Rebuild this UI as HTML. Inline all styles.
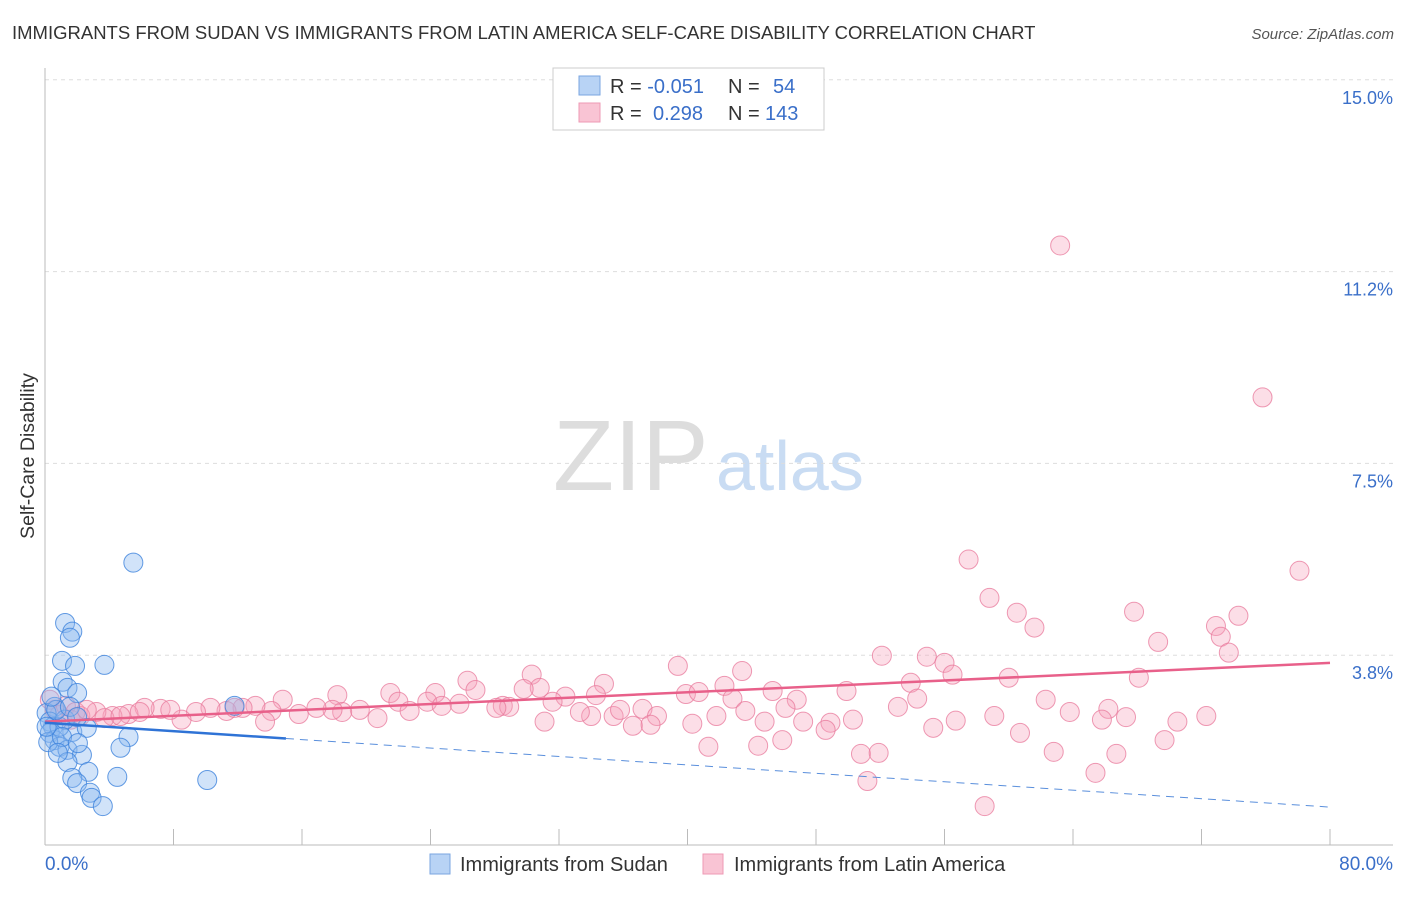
<!DOCTYPE html>
<html><head><meta charset="utf-8"><style>
body{margin:0;background:#fff;font-family:"Liberation Sans",sans-serif}
svg text{font-family:"Liberation Sans",sans-serif}
</style></head><body>
<svg id="chart" width="1406" height="892" xmlns="http://www.w3.org/2000/svg">
<text x="12" y="39" font-size="18.5" fill="#333">IMMIGRANTS FROM SUDAN VS IMMIGRANTS FROM LATIN AMERICA SELF-CARE DISABILITY CORRELATION CHART</text>
<text x="1394" y="39" font-size="15" fill="#555" text-anchor="end" font-style="italic">Source: ZipAtlas.com</text>
<g><text x="553" y="490" font-size="100" fill="#ddd" font-family="Liberation Serif,serif">ZIP</text><text x="716" y="490" font-size="70" fill="#c9dcf3">atlas</text></g>
<g id="grid"></g><g id="axes"></g><g id="pts"></g><g id="lines"></g>
<text transform="translate(34,456) rotate(-90)" font-size="19.5" fill="#333" text-anchor="middle">Self-Care Disability</text>
<text x="45" y="870" font-size="19" fill="#3a6fc9">0.0%</text>
<text x="1393" y="870" font-size="19" fill="#3a6fc9" text-anchor="end">80.0%</text>
<g>
<rect x="553" y="68" width="271" height="62" fill="#fff" stroke="#ccc"/>
<rect x="579" y="76" width="21" height="19" fill="#b8d3f5" stroke="#7aa6e0"/>
<rect x="579" y="103" width="21" height="19" fill="#f9c4d4" stroke="#ee9ab4"/>
<text x="610" y="93" font-size="20" fill="#333">R = <tspan fill="#3a6fc9">-0.051</tspan><tspan x="728">N = </tspan><tspan x="773" fill="#3a6fc9">54</tspan></text>
<text x="610" y="120" font-size="20" fill="#333">R = <tspan x="653" fill="#3a6fc9">0.298</tspan><tspan x="728">N = </tspan><tspan x="765" fill="#3a6fc9">143</tspan></text>
</g>
<g>
<rect x="430" y="854" width="20" height="20" fill="#b8d3f5" stroke="#7aa6e0"/>
<text x="460" y="871" font-size="20" fill="#333">Immigrants from Sudan</text>
<rect x="703" y="854" width="20" height="20" fill="#f9c4d4" stroke="#ee9ab4"/>
<text x="734" y="871" font-size="20" fill="#333">Immigrants from Latin America</text>
</g>
</svg>
<script>
const yTicks=[3.75,7.5,11.25,15];
const yTickLabels=["3.8%","7.5%","11.2%","15.0%"];
const xTicks=[0,8,16,24,32,40,48,56,64,72,80];
const pinkX=[63.2,75.8,57.5,78.1,58.8,60.5,61.6,67.8,74.3,72.9,73.2,69.3,73.7,52.1,54.9,56.0,56.5,39.4,43.4,60.0,68.1,53.9,30.3,26.3,34.8,30.8,29.8,42.3,45.3,49.9,39.9,40.7,34.3,21.5,24.3,18.2,26.8,32.4,54.3,62.3,46.8,46.1,42.8,53.1,14.8,23.8,22.0,31.6,37.2,43.6,66.2,67.3,63.8,72.3,59.1,56.7,55.3,41.8,38.1,35.4,34.0,35.8,33.3,28.5,28.9,28.1,25.8,24.7,22.7,20.7,19.6,18.5,17.9,16.9,15.8,14.1,13.1,12.3,11.3,10.3,9.4,8.5,7.2,6.2,5.2,4.2,3.2,2.2,13.7,31.1,36.6,37.7,40.3,44.8,47.2,48.9,48.6,50.3,65.8,70.5,60.7,69.7,41.3,44.4,45.9,50.8,51.9,62.8,66.7,65.4,51.2,58.5,0.3,0.6,0.9,1.3,1.6,1.9,2.6,3.7,4.7,5.9,7.8,11.8];
const pinkY=[11.76,8.79,5.62,5.40,4.87,4.58,4.29,4.60,4.52,4.32,4.11,4.01,3.80,3.74,3.72,3.60,3.37,3.54,3.44,3.31,3.31,3.21,3.37,3.25,3.19,3.11,3.09,3.15,3.05,3.05,2.99,3.03,2.97,3.01,3.01,2.97,3.07,2.94,2.90,2.88,2.88,2.72,2.90,2.74,2.88,2.84,2.84,2.84,2.70,2.66,2.70,2.54,2.64,2.56,2.56,2.47,2.33,2.56,2.56,2.56,2.56,2.68,2.64,2.76,2.74,2.72,2.80,2.76,2.66,2.52,2.68,2.64,2.68,2.72,2.60,2.66,2.76,2.72,2.66,2.72,2.64,2.49,2.70,2.72,2.60,2.56,2.64,2.56,2.45,2.45,2.37,2.39,2.41,2.45,2.45,2.43,2.29,2.49,2.49,2.45,2.23,2.09,1.96,1.98,2.09,1.82,1.84,1.86,1.82,1.45,1.29,0.80,2.88,2.68,2.58,2.76,2.49,2.64,2.68,2.52,2.56,2.64,2.68,2.72];
const blueX=[5.5,1.25,1.7,1.55,1.06,1.87,3.7,1.1,1.4,2.0,0.6,0.1,0.3,0.5,0.3,0.6,0.9,1.4,1.7,2.3,1.4,2.6,5.2,4.7,2.7,1.7,2.0,2.8,2.9,3.6,4.5,10.1,11.8,0.9,1.25,0.7,1.55,2.0,0.4,0.2,1.06,2.05,0.1,0.8];
const blueY=[5.56,4.38,4.21,4.09,3.64,3.54,3.56,3.23,3.11,3.01,2.74,2.62,2.45,2.35,2.23,2.09,1.96,1.90,2.25,1.80,1.66,2.33,2.15,1.94,1.47,1.35,1.25,1.06,0.96,0.80,1.37,1.31,2.76,2.35,2.49,2.68,2.74,2.54,2.94,2.05,2.15,2.03,2.35,1.84];
const pinkTrend=[2.45,3.60];
const blueTrend=[2.43,0.78];
const blueSolidEnd=15;
const X=v=>45+v*(1285/80), Y=v=>847-v*51.15;
const NS="http://www.w3.org/2000/svg";
function mk(t,a,p){const e=document.createElementNS(NS,t);for(const k in a)e.setAttribute(k,a[k]);p.appendChild(e);return e;}
const grid=document.getElementById('grid'),axes=document.getElementById('axes'),pts=document.getElementById('pts'),lines=document.getElementById('lines');
yTicks.forEach((t,i)=>{
 const l=mk('line',{x1:45,x2:1393,y1:Y(t),y2:Y(t),stroke:'#ddd','stroke-dasharray':'4,4'},grid);
 
 
 const tx=mk('text',{x:1393,y:Y(t)+24,'font-size':18,fill:'#3a6fc9','text-anchor':'end'},grid);
 tx.textContent=yTickLabels[i];
 
 
});
const ya=mk('line',{x1:45,x2:45,y1:68,y2:845,stroke:'#bbb'},axes);


const xa=mk('line',{x1:45,x2:1393,y1:845,y2:845,stroke:'#bbb'},axes);


xTicks.forEach(t=>{const l=mk('line',{x1:X(t),x2:X(t),y1:829,y2:845,stroke:'#bbb'},axes);
 
 });
pinkX.forEach((v,i)=>{const c=mk('circle',{cx:X(v),cy:Y(pinkY[i]),r:9.5,fill:'rgba(246,160,186,0.35)',stroke:'rgba(232,120,155,0.75)','stroke-width':1},pts);
 
 });
blueX.forEach((v,i)=>{const c=mk('circle',{cx:X(v),cy:Y(blueY[i]),r:9.5,fill:'rgba(140,185,240,0.4)',stroke:'rgba(60,130,220,0.8)','stroke-width':1},pts);
 
 });
const by=x=>blueTrend[0]+(blueTrend[1]-blueTrend[0])*x/80;
const pl=mk('line',{x1:X(0),y1:Y(pinkTrend[0]),x2:X(80),y2:Y(pinkTrend[1]),stroke:'#e8608a','stroke-width':2.5},lines);


const bl=mk('line',{x1:X(0),y1:Y(by(0)),x2:X(blueSolidEnd),y2:Y(by(blueSolidEnd)),stroke:'#2f73d6','stroke-width':2.5},lines);


const bd=mk('line',{x1:X(blueSolidEnd),y1:Y(by(blueSolidEnd)),x2:X(80),y2:Y(by(80)),stroke:'#5a8fdc','stroke-width':1,'stroke-dasharray':'8,6'},lines);


</script>
</body></html>
